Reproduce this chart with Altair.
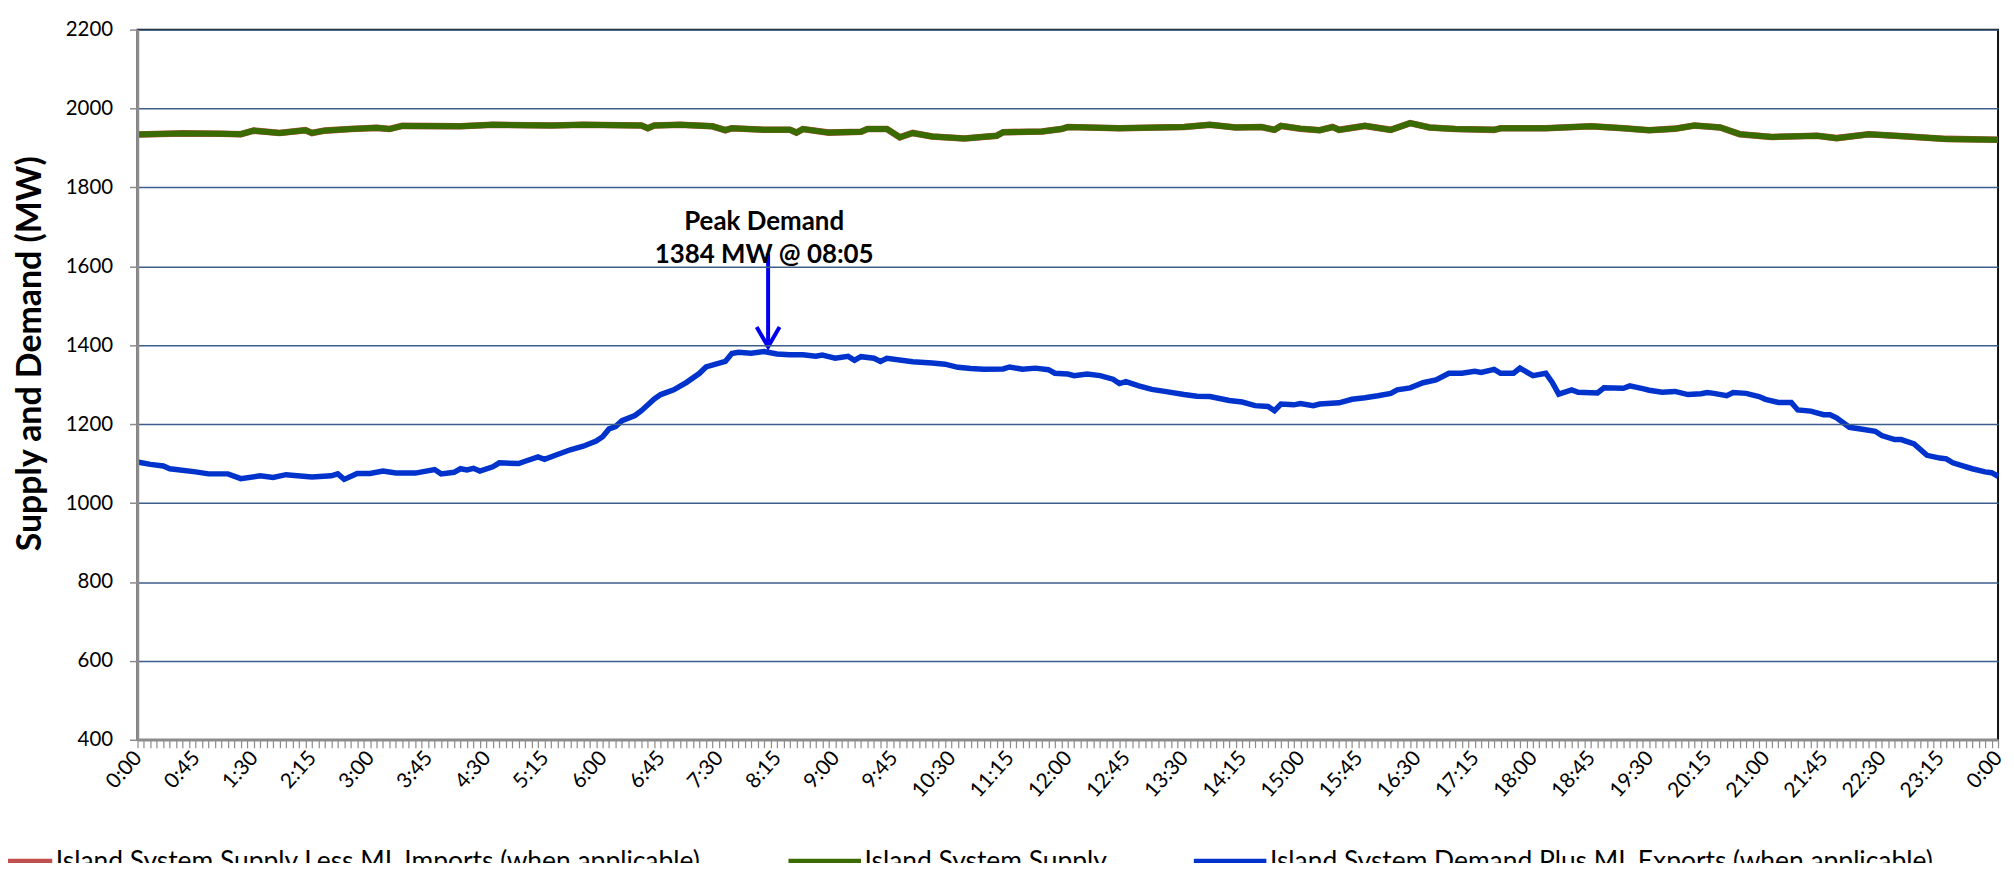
import altair as alt
import pandas as pd

FONT = "Lato"

SERIES = [
    "Island System Supply Less ML Imports (when applicable)",
    "Island System Supply",
    "Island System Demand Plus ML Exports (when applicable)",
]
COLORS = ["#c0504d", "#3a6b00", "#0033cc"]

# minutes after midnight -> MW
supply_min = [0, 35, 65, 80, 90, 110, 130, 135, 145, 165, 185, 195, 205, 250, 275, 320, 345,
              390, 395, 400, 420, 445, 455, 460, 485, 505, 510, 515, 535, 560, 565, 580, 590,
              600, 615, 640, 665, 670, 700, 715, 720, 760, 810, 830, 850, 870, 880, 885, 900,
              915, 925, 930, 950, 970, 985, 1000, 1020, 1050, 1055, 1090, 1125, 1150, 1170,
              1190, 1205, 1225, 1240, 1265, 1300, 1315, 1340, 1370, 1400, 1440]
supply_mw = [1934, 1937, 1936, 1935, 1944, 1938, 1945, 1938, 1944, 1948, 1951, 1948, 1956, 1955,
             1959, 1957, 1959, 1957, 1950, 1957, 1959, 1955, 1945, 1950, 1946, 1946, 1939, 1948,
             1939, 1941, 1948, 1948, 1927, 1938, 1929, 1924, 1931, 1940, 1942, 1948, 1953, 1950,
             1953, 1959, 1952, 1953, 1946, 1956, 1949, 1945, 1953, 1946, 1956, 1946, 1963, 1952,
             1948, 1946, 1950, 1950, 1955, 1950, 1945, 1949, 1957, 1952, 1935, 1928, 1931, 1925,
             1935, 1929, 1923, 1921]

# no ML imports on this day: the red series sits under the green one
less_min = supply_min
less_mw = supply_mw

demand_min = [0, 10, 20, 25, 45, 55, 70, 80, 95, 105, 115, 135, 150, 155, 160, 170, 180, 190,
              200, 215, 230, 235, 245, 250, 255, 260, 265, 275, 280, 295, 300, 310, 315, 325,
              335, 345, 355, 360, 365, 370, 375, 385, 390, 400, 405, 415, 425, 435, 440, 455,
              460, 465, 475, 485, 495, 505, 515, 525, 530, 535, 540, 550, 555, 560, 570, 575,
              580, 600, 615, 625, 635, 645, 655, 670, 675, 685, 695, 705, 710, 720, 725, 735,
              745, 755, 760, 765, 775, 785, 795, 810, 820, 830, 845, 855, 865, 875, 880, 885,
              895, 900, 910, 915, 930, 940, 950, 960, 970, 975, 985, 995, 1005, 1015, 1025,
              1035, 1040, 1050, 1055, 1065, 1070, 1080, 1090, 1095, 1100, 1110, 1115, 1130,
              1135, 1150, 1155, 1165, 1170, 1180, 1190, 1200, 1210, 1215, 1220, 1230, 1235,
              1245, 1255, 1260, 1270, 1280, 1285, 1295, 1305, 1310, 1315, 1325, 1335, 1345,
              1350, 1360, 1365, 1375, 1385, 1395, 1400, 1405, 1420, 1430, 1435, 1440]
demand_mw = [1104, 1098, 1094, 1087, 1079, 1074, 1074, 1062, 1069, 1065, 1072, 1066, 1069, 1074,
             1060, 1075, 1075, 1081, 1076, 1076, 1085, 1074, 1078, 1087, 1084, 1088, 1081, 1092,
             1102, 1100, 1106, 1117, 1111, 1123, 1135, 1144, 1157, 1168, 1188, 1194, 1209, 1222,
             1234, 1264, 1275, 1287, 1306, 1329, 1345, 1359, 1379, 1382, 1380, 1384, 1378, 1376,
             1376, 1372, 1375, 1371, 1367, 1372, 1362, 1371, 1367, 1359, 1367, 1358, 1355, 1352,
             1344, 1341, 1339, 1340, 1345, 1339, 1342, 1338, 1329, 1327, 1323, 1327, 1323, 1314,
             1303, 1308, 1297, 1288, 1283, 1275, 1271, 1270, 1260, 1256, 1247, 1245, 1234, 1251,
             1249, 1252, 1247, 1251, 1254, 1263, 1267, 1272, 1278, 1287, 1292, 1305, 1312, 1329,
             1329, 1334, 1331, 1339, 1329, 1329, 1342, 1323, 1329, 1306, 1276, 1287, 1281, 1279,
             1292, 1291, 1297, 1290, 1286, 1281, 1283, 1275, 1277, 1280, 1278, 1272, 1280, 1278,
             1270, 1263, 1255, 1255, 1236, 1233, 1224, 1224, 1216, 1192, 1187, 1182, 1171, 1161,
             1161, 1150, 1121, 1114, 1112, 1102, 1087, 1079, 1077, 1068]

PEAK_MIN = 485
PEAK_MW = 1384
PEAK_TEXT = ["Peak Demand", "1384 MW @ 08:05"]

Y_TICKS = list(range(400, 2201, 200))
X_TICKS = list(range(0, 1441, 5))   # one category every 5 minutes
X_LABEL_MIN = list(range(0, 1441, 45))
X_LABELS = ["0:00", "0:45", "1:30", "2:15", "3:00", "3:45", "4:30", "5:15", "6:00", "6:45",
            "7:30", "8:15", "9:00", "9:45", "10:30", "11:15", "12:00", "12:45", "13:30",
            "14:15", "15:00", "15:45", "16:30", "17:15", "18:00", "18:45", "19:30", "20:15",
            "21:00", "21:45", "22:30", "23:15", "0:00"]

supply_df = pd.DataFrame({"minute": supply_min, "mw": supply_mw})
less_df = pd.DataFrame({"minute": less_min, "mw": less_mw})
demand_df = pd.DataFrame({"minute": demand_min, "mw": demand_mw})
peak_df = pd.DataFrame({"minute": [PEAK_MIN], "mw": [PEAK_MW]})
xlab_df = pd.DataFrame({"minute": X_LABEL_MIN, "label": X_LABELS})

x_enc = alt.X(
    "minute:O",
    scale=alt.Scale(type="point", domain=X_TICKS, padding=0),
    sort=None,
    axis=alt.Axis(
        labels=False,
        tickSize=8, tickColor="#8c8c8c", tickWidth=1.2,
        domainColor="#8c8c8c", domainWidth=2.5, grid=False, title=None, zindex=1,
    ),
)
y_enc = alt.Y(
    "mw:Q",
    scale=alt.Scale(domain=[400, 2200], nice=False, zero=False),
    axis=alt.Axis(
        values=Y_TICKS, tickCount=20, format="d", labelFont=FONT, labelFontSize=20.5,
        labelColor="#000000",
        labelPadding=17, tickSize=8, tickColor="#8c8c8c", tickWidth=1.5,
        domainColor="#8c8c8c", domainWidth=2.5,
        grid=True, gridColor="#3b5e8c", gridWidth=1.5,
        title="Supply and Demand (MW)", titleFont=FONT, titleFontSize=34,
        titleFontWeight="bold", titleColor="#000000", titleAngle=270,
        titleX=-107, titleY=325, titleAlign="center", titleBaseline="middle", zindex=1,
    ),
)

color_scale = alt.Scale(domain=SERIES, range=COLORS)
legend = alt.Legend(
    title=None, orient="none", direction="horizontal", legendX=-162, legendY=796,
    symbolType="stroke", symbolSize=5300, symbolStrokeWidth=7, labelOffset=0,
    labelFont=FONT, labelFontSize=26.5, labelColor="#000000", columnPadding=72,
    labelLimit=1000,
)

less_line = alt.Chart(less_df).mark_line(strokeWidth=6.6, interpolate="linear").encode(
    x=x_enc, y=y_enc,
    color=alt.Color("s:N", scale=color_scale, legend=legend),
).transform_calculate(s=f"'{SERIES[0]}'")

supply_line = alt.Chart(supply_df).mark_line(strokeWidth=6).encode(
    x=x_enc, y=y_enc, color=alt.Color("s:N", scale=color_scale, legend=legend),
).transform_calculate(s=f"'{SERIES[1]}'")

demand_line = alt.Chart(demand_df).mark_line(strokeWidth=5.5).encode(
    x=x_enc, y=y_enc, color=alt.Color("s:N", scale=color_scale, legend=legend),
).transform_calculate(s=f"'{SERIES[2]}'")

x_labels = alt.Chart(xlab_df).mark_text(
    angle=312, align="right", baseline="middle", font=FONT, fontSize=21,
    color="#000000", yOffset=15, xOffset=1,
).encode(x=x_enc, y=alt.datum(Y_TICKS[0]), text="label:N")

arrow_shaft = alt.Chart(peak_df).mark_rule(
    color="#0000ee", strokeWidth=4, xOffset=4
).transform_calculate(top="datum.mw + 249", tip="datum.mw + 12").encode(
    x=x_enc, y="top:Q", y2="tip:Q"
)

arrow_head = alt.Chart(peak_df).mark_point(
    shape="M -1 -0.87 L 0 0.87 L 1 -0.87", size=529, filled=False,
    color="#0000ee", strokeWidth=4, opacity=1, xOffset=4, yOffset=-10,
).transform_calculate(tip="datum.mw + 12").encode(x=x_enc, y="tip:Q")

peak_text = alt.Chart(peak_df).mark_text(
    text=PEAK_TEXT, font=FONT, fontSize=26, fontWeight="bold", color="#000000",
    align="center", baseline="middle", lineHeight=33,
).transform_calculate(ty="datum.mw + 328").encode(x=x_enc, y="ty:Q")

chart = alt.layer(
    less_line, supply_line, demand_line, x_labels, arrow_shaft, arrow_head, peak_text
).properties(
    width=1868, height=713,
    autosize=alt.AutoSizeParams(type="none"),
    padding={"left": 130, "top": 20, "right": 8, "bottom": 122},
    background="#ffffff",
).configure_view(
    stroke="#111111", strokeWidth=2, clip=False
)

chart.save("out.html", embed_options={"renderer": "svg", "actions": False})
